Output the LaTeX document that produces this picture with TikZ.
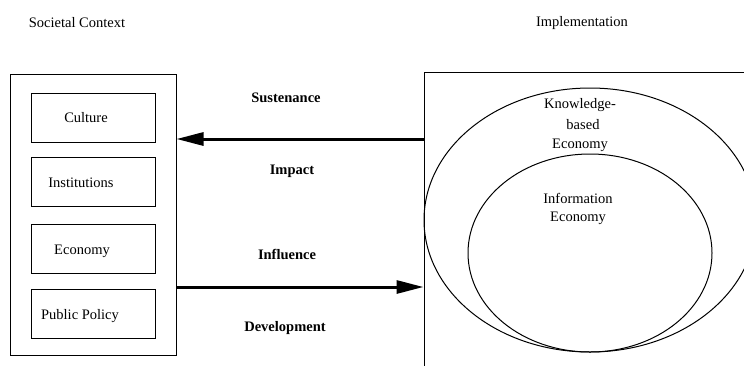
\documentclass[tikz,border=0pt]{standalone}
\usepackage{fontspec}
\setmainfont{Liberation Serif}
\usetikzlibrary{shapes.geometric,arrows.meta}
\begin{document}
\begin{tikzpicture}[x=1pt,y=-1pt,
  every node/.style={font=\fontsize{14.5}{19}\selectfont, inner sep=0pt},
  frame/.style={draw, line width=1pt, rectangle},
  item/.style={frame, minimum width=124pt, minimum height=49pt},
  lbl/.style={font=\fontsize{14.5}{19}\selectfont\bfseries},
  oval/.style={draw, line width=1pt, ellipse},
  bigarrow/.style={line width=3pt, -{Triangle[length=27pt,width=13pt]}}
]
\useasboundingbox (0,0) rectangle (744,365);
\clip (0,0) rectangle (744,365);
\node (sc) at (77,23) {Societal Context};
\node (impl) at (582,23) {Implementation};
\node[frame, minimum width=166pt, minimum height=281pt] (lbox) at (93,214.5) {};
\node[item] (cult) at (93,117.5) {};
\node (cultt) at (86,118) {Culture};
\node[item] (inst) at (93,182) {};
\node (instt) at (81,183) {Institutions};
\node[item] (econ) at (93,249) {};
\node (econt) at (82,251) {Economy};
\node[item] (pp) at (93,314) {};
\node (ppt) at (80,316) {Public Policy};
\node[frame, minimum width=340pt, minimum height=320pt] (rbox) at (594,232) {};
\node[oval, minimum width=332pt, minimum height=264pt] (outer) at (590,220) {};
\node[oval, minimum width=244pt, minimum height=198pt] (inner) at (590,253) {};
\node[align=center] (kbe) at (580,125) {Knowledge-\\[1.5pt]\hspace*{6pt}based\\[0pt]Economy};
\node[align=center] (ie) at (578,209) {Information\\[-1pt]Economy};
\node[lbl] (sus) at (286,98) {Sustenance};
\node[lbl] (imp) at (292,171) {Impact};
\node[lbl] (inf) at (287,254) {Influence};
\node[lbl] (dev) at (285,328) {Development};
\coordinate (ya) at (0,139);
\coordinate (yb) at (0,287);
\draw[bigarrow] (rbox.west |- ya) -- (lbox.east |- ya);
\draw[bigarrow] (lbox.east |- yb) -- (rbox.west |- yb);
\end{tikzpicture}
\end{document}
